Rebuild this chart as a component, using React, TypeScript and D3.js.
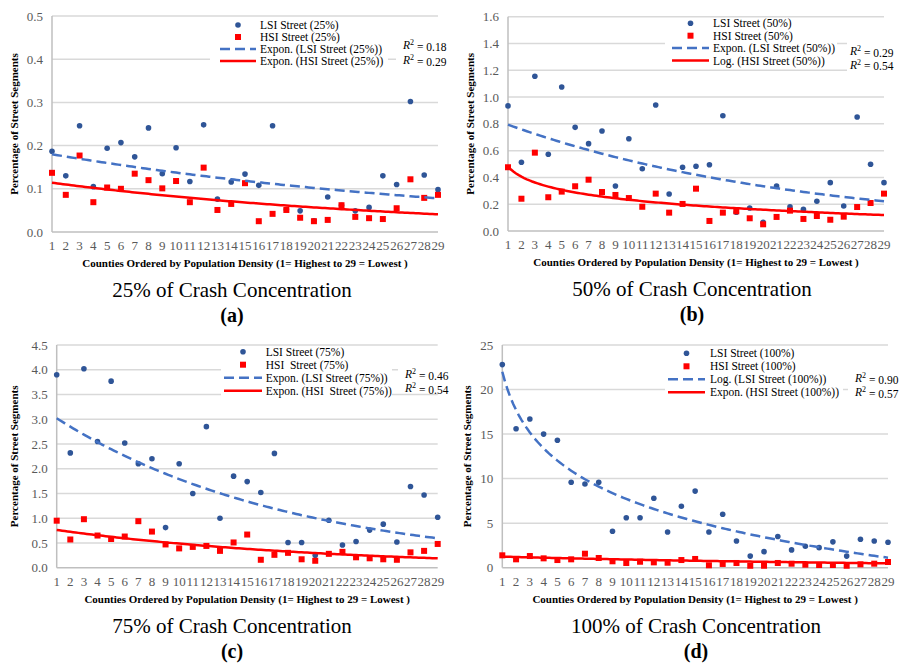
import * as d3 from "d3";

// counties 1..29 on the x axis
const COUNTIES = d3.range(1, 30);

const LSI_25 = [0.187, 0.13, 0.246, 0.105, 0.194, 0.207, 0.174, 0.241, 0.135, 0.195, 0.117, 0.248, 0.076, 0.116, 0.134, 0.108, 0.246, 0.052, 0.049, 0.026, 0.081, 0.062, 0.049, 0.057, 0.13, 0.11, 0.302, 0.132, 0.098];
const HSI_25 = [0.137, 0.086, 0.177, 0.069, 0.103, 0.1, 0.135, 0.12, 0.101, 0.118, 0.069, 0.149, 0.051, 0.065, 0.113, 0.025, 0.042, 0.051, 0.033, 0.025, 0.028, 0.062, 0.035, 0.032, 0.03, 0.055, 0.122, 0.079, 0.086];

const LSI_50 = [0.934, 0.513, 1.155, 0.573, 1.075, 0.774, 0.652, 0.747, 0.336, 0.689, 0.465, 0.941, 0.276, 0.476, 0.483, 0.495, 0.861, 0.14, 0.172, 0.065, 0.336, 0.181, 0.162, 0.222, 0.361, 0.187, 0.851, 0.498, 0.361];
const HSI_50 = [0.476, 0.241, 0.585, 0.252, 0.294, 0.334, 0.383, 0.291, 0.269, 0.246, 0.181, 0.279, 0.137, 0.202, 0.316, 0.075, 0.137, 0.147, 0.095, 0.05, 0.105, 0.152, 0.09, 0.112, 0.084, 0.107, 0.179, 0.209, 0.279];

const LSI_75 = [3.9, 2.32, 4.02, 2.55, 3.77, 2.52, 2.1, 2.2, 0.81, 2.1, 1.5, 2.85, 1.0, 1.85, 1.74, 1.52, 2.31, 0.51, 0.51, 0.25, 0.96, 0.46, 0.53, 0.76, 0.88, 0.52, 1.64, 1.47, 1.02];
const HSI_75 = [0.95, 0.57, 0.98, 0.65, 0.58, 0.63, 0.94, 0.73, 0.47, 0.39, 0.42, 0.44, 0.34, 0.51, 0.67, 0.16, 0.26, 0.3, 0.17, 0.14, 0.28, 0.32, 0.21, 0.19, 0.17, 0.16, 0.31, 0.34, 0.48];

const LSI_100 = [22.8, 15.6, 16.7, 15.0, 14.3, 9.6, 9.4, 9.6, 4.1, 5.6, 5.6, 7.8, 4.0, 6.9, 8.6, 4.0, 6.0, 3.0, 1.3, 1.8, 3.5, 2.0, 2.4, 2.25, 2.9, 1.3, 3.2, 3.0, 2.85];
const HSI_100 = [1.39, 0.94, 1.31, 1.05, 0.86, 0.94, 1.57, 1.09, 0.72, 0.53, 0.67, 0.6, 0.56, 0.86, 0.98, 0.27, 0.42, 0.53, 0.22, 0.22, 0.53, 0.45, 0.34, 0.3, 0.3, 0.22, 0.38, 0.45, 0.64];

const LSI_SERIES = [LSI_25, LSI_50, LSI_75, LSI_100];
const HSI_SERIES = [HSI_25, HSI_50, HSI_75, HSI_100];

// trendlines: type and value at county 1 / county 29
const LSI_FIT_TYPE = ["exp", "exp", "exp", "log"];
const LSI_FIT_ENDS = [[0.18, 0.078], [0.794, 0.222], [3.02, 0.594], [22.0, 1.12]];
const HSI_FIT_TYPE = ["exp", "log", "exp", "exp"];
const HSI_FIT_ENDS = [[0.114, 0.041], [0.48, 0.119], [0.762, 0.189], [1.24, 0.49]];
const LSI_R2 = ["0.18", "0.29", "0.46", "0.90"];
const HSI_R2 = ["0.29", "0.54", "0.54", "0.57"];

const Y_MAX = [0.5, 1.6, 4.5, 25];
const Y_STEP = [0.1, 0.2, 0.5, 5];
const Y_DIGITS = [1, 1, 1, 0];

const LEGEND_LABELS = [
  ["LSI Street (25%)", "HSI Street (25%)", "Expon. (LSI Street (25%))", "Expon. (HSI Street (25%))"],
  ["LSI Street (50%)", "HSI Street (50%)", "Expon. (LSI Street (50%))", "Log. (HSI Street (50%))"],
  ["LSI Street (75%)", "HSI  Street (75%)", "Expon. (LSI Street (75%))", "Expon. (HSI  Street (75%))"],
  ["LSI Street (100%)", "HSI Street (100%)", "Log. (LSI Street (100%))", "Expon. (HSI Street (100%))"],
];
const CAPTIONS = ["25% of Crash Concentration", "50% of Crash Concentration", "75% of Crash Concentration", "100% of Crash Concentration"];
const LETTERS = ["(a)", "(b)", "(c)", "(d)"];

const X_TITLE = "Counties Ordered by Population Density (1= Highest to 29 = Lowest )";
const Y_TITLE = "Percentage of Street Segments";

// layout of each panel (pixels)
const PANELS = [
  { left: 52, right: 438, top: 16, bottom: 232, yTitleX: 14, capX: 232,
    leg: { x0: 220, x1: 256, y0: 25, dy: 12, tx: 260, box: [210, 18, 178, 50] },
    r2: { x: 403, y0: 45, dy: 15, box: [396, 36, 56, 32] } },
  { left: 508, right: 884, top: 16.7, bottom: 231, yTitleX: 470, capX: 692,
    leg: { x0: 672, x1: 709, y0: 23.3, dy: 12.4, tx: 713, box: [665, 18, 172, 50] },
    r2: { x: 850, y0: 51, dy: 13.5, box: [847, 40, 53, 34] } },
  { left: 56.7, right: 437.7, top: 345, bottom: 567.7, yTitleX: 14, capX: 232,
    leg: { x0: 224, x1: 262, y0: 351.7, dy: 13, tx: 265.7, box: [221, 347, 171, 51] },
    r2: { x: 405, y0: 374, dy: 14, box: [398, 362, 52, 31] } },
  { left: 502.3, right: 888, top: 345, bottom: 567.7, yTitleX: 467, capX: 696,
    leg: { x0: 668, x1: 705, y0: 353.3, dy: 13, tx: 710, box: [665, 347, 178, 51] },
    r2: { x: 855, y0: 378, dy: 14, box: [848, 366, 52, 32] } },
];

const FONT = "Liberation Serif";
const BLUE = "#2f5597";
const TREND_BLUE = "#4472c4";
const RED = "#ff0000";
const DASH = "10 5";

function fitFn(type: string, ends: number[]) {
  const [a, z] = ends;
  if (type === "exp") {
    const b = Math.log(z / a) / 28;
    return (t: number) => a * Math.exp(b * (t - 1));
  }
  const b = (z - a) / Math.log(29);
  return (t: number) => a + b * Math.log(t);
}

function Panel({ i }: { i: number }) {
  const p = PANELS[i];
  const x = d3.scaleLinear().domain([1, 29]).range([p.left, p.right]);
  const y = d3.scaleLinear().domain([0, Y_MAX[i]]).range([p.bottom, p.top]);
  const ticks = d3.range(0, Y_MAX[i] + Y_STEP[i] / 2, Y_STEP[i]);
  const samples = d3.range(1, 29.001, 0.2);
  const line = (f: (t: number) => number) =>
    d3.line<number>().x((t) => x(t)).y((t) => y(f(t)))(samples) || "";
  const lsiFit = fitFn(LSI_FIT_TYPE[i], LSI_FIT_ENDS[i]);
  const hsiFit = fitFn(HSI_FIT_TYPE[i], HSI_FIT_ENDS[i]);
  const midX = (p.left + p.right) / 2;
  const midY = (p.top + p.bottom) / 2;
  const L = p.leg;
  const rowY = (k: number) => L.y0 + k * L.dy;
  const lmid = (L.x0 + L.x1) / 2;

  return (
    <g fontFamily={FONT}>
      {/* gridlines */}
      {ticks.slice(1).map((t) => (
        <line key={t} x1={p.left} x2={p.right} y1={y(t)} y2={y(t)} stroke="#d9d9d9" strokeWidth={1.5} />
      ))}
      <line x1={p.left} x2={p.left} y1={p.top} y2={p.bottom} stroke="#bfbfbf" strokeWidth={1.5} />
      <line x1={p.left} x2={p.right} y1={p.bottom} y2={p.bottom} stroke="#bfbfbf" strokeWidth={1.5} />

      {/* y tick labels */}
      {ticks.map((t) => (
        <text key={t} x={p.left - 9} y={y(t)} dy="0.35em" textAnchor="end" fontSize={13} fill="#595959">
          {t.toFixed(Y_DIGITS[i])}
        </text>
      ))}
      {/* x tick labels */}
      {COUNTIES.map((c) => (
        <text key={c} x={x(c)} y={p.bottom + 18} textAnchor="middle" fontSize={13} fill="#595959">
          {c}
        </text>
      ))}

      <text x={midX} y={p.bottom + 35} textAnchor="middle" fontSize={11} fontWeight="bold">{X_TITLE}</text>
      <text transform={`translate(${p.yTitleX},${midY}) rotate(-90)`} dy="0.35em" textAnchor="middle" fontSize={11} fontWeight="bold">
        {Y_TITLE}
      </text>
      <text x={p.capX} y={p.bottom + 65} textAnchor="middle" fontSize={21}>{CAPTIONS[i]}</text>
      <text x={p.capX} y={p.bottom + 90} textAnchor="middle" fontSize={20} fontWeight="bold">{LETTERS[i]}</text>

      {/* markers */}
      {LSI_SERIES[i].map((v, k) => (
        <circle key={"l" + k} cx={x(COUNTIES[k])} cy={y(v)} r={2.8} fill={BLUE} />
      ))}
      {HSI_SERIES[i].map((v, k) => (
        <rect key={"h" + k} x={x(COUNTIES[k]) - 3} y={y(v) - 3} width={6} height={6} fill={RED} />
      ))}

      {/* trendlines */}
      <path d={line(lsiFit)} fill="none" stroke={TREND_BLUE} strokeWidth={2.5} strokeDasharray={DASH} />
      <path d={line(hsiFit)} fill="none" stroke={RED} strokeWidth={2.5} />

      {/* legend */}
      <rect x={L.box[0]} y={L.box[1]} width={L.box[2]} height={L.box[3]} fill="#fff" />
      <circle cx={lmid} cy={rowY(0)} r={2.8} fill={BLUE} />
      <rect x={lmid - 3} y={rowY(1) - 3} width={6} height={6} fill={RED} />
      <line x1={L.x0} x2={L.x1} y1={rowY(2)} y2={rowY(2)} stroke={TREND_BLUE} strokeWidth={2.5} strokeDasharray={DASH} />
      <line x1={L.x0} x2={L.x1} y1={rowY(3)} y2={rowY(3)} stroke={RED} strokeWidth={2.5} />
      {LEGEND_LABELS[i].map((s, k) => (
        <text key={k} x={L.tx} y={rowY(k)} dy="0.35em" fontSize={11.5} style={{ whiteSpace: "pre" }}>{s}</text>
      ))}

      {/* R² labels */}
      <rect x={p.r2.box[0]} y={p.r2.box[1]} width={p.r2.box[2]} height={p.r2.box[3]} fill="#fff" />
      {[LSI_R2[i], HSI_R2[i]].map((r, k) => (
        <text key={k} x={p.r2.x} y={p.r2.y0 + k * p.r2.dy} dy="0.35em" fontSize={11.5}>
          <tspan fontStyle="italic">R</tspan>
          <tspan fontSize={8} dy="-0.45em">2</tspan>
          <tspan dy="0.45em">{" = " + r}</tspan>
        </text>
      ))}
    </g>
  );
}

export default function App() {
  return (
    <svg width={900} height={664} style={{ position: "absolute", left: 0, top: 0, background: "#fff" }}>
      <rect width={900} height={664} fill="#fff" />
      {[0, 1, 2, 3].map((i) => (
        <Panel key={i} i={i} />
      ))}
    </svg>
  );
}
